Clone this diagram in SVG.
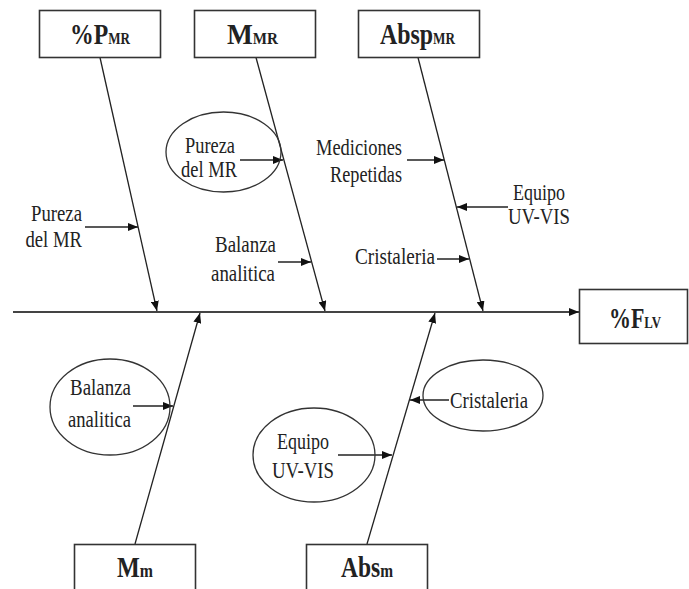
<svg xmlns="http://www.w3.org/2000/svg" width="689" height="589" viewBox="0 0 689 589">
<defs>
<marker id="ah" viewBox="0 0 10 8" refX="10" refY="4" markerWidth="10" markerHeight="8" markerUnits="userSpaceOnUse" orient="auto">
<path d="M0,0 L10,4 L0,8 z" fill="#111"/>
</marker>
<style>
.box{fill:#fff;stroke:#333;stroke-width:1.6}
.ell{fill:none;stroke:#333;stroke-width:1.3}
.bone{stroke:#222;stroke-width:1.3;fill:none;marker-end:url(#ah)}
.spine{stroke:#444;stroke-width:2;fill:none;marker-end:url(#ah)}
.sub{stroke:#222;stroke-width:1.5;fill:none;marker-end:url(#ah)}
</style>
</defs>
<rect width="689" height="589" fill="#fff"/>

<g id="connectors">
<path class="spine" d="M13,312 L579,312"/>
<path class="bone" d="M100,57.5 L157,311"/>
<path class="bone" d="M256,57.5 L325,311"/>
<path class="bone" d="M418,57.5 L483,311"/>
<path class="bone" d="M135,544 L200,313"/>
<path class="bone" d="M367,544 L435,313"/>
<path class="sub" d="M85,227 L138,227"/>
<path class="sub" d="M240,160 L283,160"/>
<path class="sub" d="M278,262 L311,262"/>
<path class="sub" d="M407,160 L444,160"/>
<path class="sub" d="M508,207 L457,207"/>
<path class="sub" d="M437,259 L469,259"/>
<path class="sub" d="M133,406 L173,406"/>
<path class="sub" d="M449,400 L410,400"/>
<path class="sub" d="M338,455 L392,455"/>
</g>

<g font-family="Liberation Serif" font-weight="bold" font-size="29" fill="#222">
<g id="box-pmr">
<rect class="box" x="39.5" y="10.5" width="121" height="47"/>
<text x="70" y="44" textLength="60" lengthAdjust="spacingAndGlyphs">%P<tspan font-size="16">MR</tspan></text>
</g>
<g id="box-mmr">
<rect class="box" x="194.5" y="10.5" width="121" height="47"/>
<text x="227" y="44" textLength="51" lengthAdjust="spacingAndGlyphs">M<tspan font-size="16">MR</tspan></text>
</g>
<g id="box-abspmr">
<rect class="box" x="358.5" y="10.5" width="121" height="47"/>
<text x="380" y="44" textLength="75" lengthAdjust="spacingAndGlyphs">Absp<tspan font-size="16">MR</tspan></text>
</g>
<g id="box-flv">
<rect class="box" x="579.5" y="289.5" width="108" height="54"/>
<text x="609" y="328" textLength="52" lengthAdjust="spacingAndGlyphs">%F<tspan font-size="17">LV</tspan></text>
</g>
<g id="box-mm">
<rect class="box" x="74.5" y="544.5" width="121" height="50"/>
<text x="117" y="577" textLength="36" lengthAdjust="spacingAndGlyphs">M<tspan font-size="19">m</tspan></text>
</g>
<g id="box-absm">
<rect class="box" x="306.5" y="544.5" width="121" height="50"/>
<text x="341" y="577" textLength="52" lengthAdjust="spacingAndGlyphs">Abs<tspan font-size="19">m</tspan></text>
</g>
</g>

<g font-family="Liberation Serif" font-size="23" fill="#222">
<g id="lbl-pureza-1">
<text x="31" y="221" textLength="51" lengthAdjust="spacingAndGlyphs">Pureza</text>
<text x="25.5" y="247" textLength="56.5" lengthAdjust="spacingAndGlyphs">del MR</text>
</g>
<g id="ell-pureza-2">
<ellipse class="ell" cx="223.5" cy="152" rx="57.5" ry="40"/>
<text x="185" y="153" textLength="50" lengthAdjust="spacingAndGlyphs">Pureza</text>
<text x="181" y="177" textLength="56" lengthAdjust="spacingAndGlyphs">del MR</text>
</g>
<g id="lbl-balanza-1">
<text x="215" y="252" textLength="61" lengthAdjust="spacingAndGlyphs">Balanza</text>
<text x="211" y="281" textLength="64" lengthAdjust="spacingAndGlyphs">analitica</text>
</g>
<g id="lbl-mediciones">
<text x="316" y="155" textLength="86" lengthAdjust="spacingAndGlyphs">Mediciones</text>
<text x="330" y="182" textLength="72" lengthAdjust="spacingAndGlyphs">Repetidas</text>
</g>
<g id="lbl-equipo-1">
<text x="513" y="200" textLength="52" lengthAdjust="spacingAndGlyphs">Equipo</text>
<text x="508" y="224" textLength="62" lengthAdjust="spacingAndGlyphs">UV-VIS</text>
</g>
<g id="lbl-cristaleria-1">
<text x="355" y="264" textLength="80" lengthAdjust="spacingAndGlyphs">Cristaleria</text>
</g>
<g id="ell-balanza-2">
<ellipse class="ell" cx="110" cy="407" rx="60" ry="48"/>
<text x="70" y="395" textLength="61" lengthAdjust="spacingAndGlyphs">Balanza</text>
<text x="68" y="427" textLength="63" lengthAdjust="spacingAndGlyphs">analitica</text>
</g>
<g id="ell-cristaleria-2">
<ellipse class="ell" cx="483" cy="395.5" rx="60" ry="35.5"/>
<text x="450" y="408" textLength="78" lengthAdjust="spacingAndGlyphs">Cristaleria</text>
</g>
<g id="ell-equipo-2">
<ellipse class="ell" cx="314" cy="455" rx="61" ry="47"/>
<text x="277" y="449" textLength="52" lengthAdjust="spacingAndGlyphs">Equipo</text>
<text x="272" y="478" textLength="62" lengthAdjust="spacingAndGlyphs">UV-VIS</text>
</g>
</g>
</svg>
